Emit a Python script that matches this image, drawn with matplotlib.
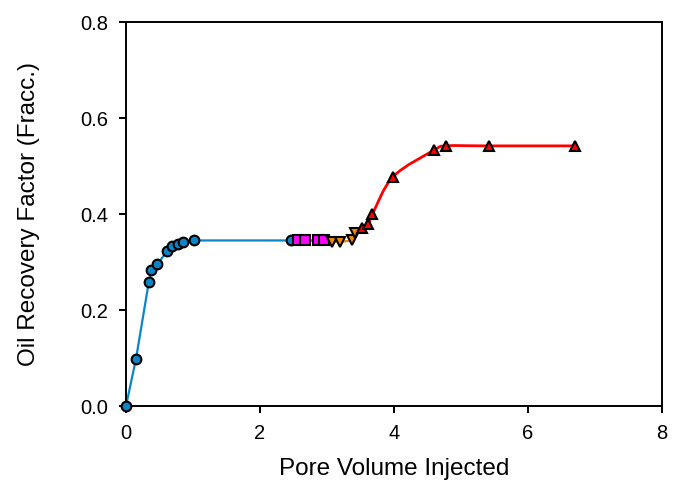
from matplotlib import pyplot as plt
from matplotlib.path import Path
from matplotlib.patches import PathPatch
import numpy as np

plt.rcParams['font.family'] = ['Liberation Sans', 'DejaVu Sans']

# blue circles
circ_x = [0.0, 0.15, 0.34, 0.38, 0.47, 0.61, 0.69, 0.77, 0.85, 1.02, 2.46]
circ_y = [0.0, 0.099, 0.258, 0.283, 0.296, 0.322, 0.333, 0.338, 0.342, 0.345, 0.345]
# magenta squares
sq_x = [2.57, 2.67, 2.86, 2.96]
sq_y = [0.345, 0.345, 0.345, 0.345]
# orange down triangles
dn_x = [3.08, 3.19, 3.37, 3.42]
dn_y = [0.342, 0.342, 0.345, 0.360]
# red up triangles
up_x = [3.53, 3.62, 3.68, 3.99, 4.60, 4.78, 5.42, 6.70]
up_y = [0.371, 0.380, 0.400, 0.478, 0.533, 0.542, 0.542, 0.542]

BLUE = '#0a86c8'
MAG = '#ff00ff'
ORANGE = '#f08a00'
RED = '#ff0000'


def smooth_path(xs, ys):
    # Catmull-Rom curve turned into cubic bezier pieces
    pts = np.column_stack([xs, ys])
    ext = np.vstack([pts[0], pts, pts[-1]])
    verts = [pts[0]]
    codes = [Path.MOVETO]
    for i in range(1, len(ext) - 2):
        p0, p1, p2, p3 = ext[i - 1], ext[i], ext[i + 1], ext[i + 2]
        verts += [p1 + (p2 - p0) / 6, p2 - (p3 - p1) / 6, p2]
        codes += [Path.CURVE4] * 3
    return Path(verts, codes)


fig, ax = plt.subplots(figsize=(6.76, 4.84), dpi=100)
fig.subplots_adjust(left=0.1864, right=0.979, top=0.9545, bottom=0.161)

ax.plot(circ_x + sq_x, circ_y + sq_y, color=BLUE, lw=1.6, zorder=2)
ax.plot(sq_x[-1:] + dn_x, sq_y[-1:] + dn_y, color=ORANGE, lw=1.6, zorder=2)
ax.add_patch(PathPatch(smooth_path(dn_x[-1:] + up_x, dn_y[-1:] + up_y),
                       facecolor='none', edgecolor=RED, lw=2, zorder=2))

mk = dict(linestyle='none', markeredgecolor='black', markeredgewidth=1.5,
          clip_on=False, zorder=3)
ax.plot(circ_x, circ_y, marker='o', markersize=7, markerfacecolor=BLUE, **mk)
ax.plot(sq_x, sq_y, marker='s', markersize=6.5, markerfacecolor=MAG, **mk)
ax.plot(dn_x, dn_y, marker='v', markersize=7.5, markerfacecolor=ORANGE, **mk)
ax.plot(up_x, up_y, marker='^', markersize=7.5, markerfacecolor=RED, **mk)

ax.set_xlim(0, 8)
ax.set_ylim(0, 0.8)
ax.set_xticks([0, 2, 4, 6, 8])
ax.set_yticks([0.0, 0.2, 0.4, 0.6, 0.8])
ax.set_yticklabels(['0.0', '0.2', '0.4', '0.6', '0.8'])
ax.tick_params(direction='out', length=5, width=1.4, labelsize=14.5, pad=8)
for s in ax.spines.values():
    s.set_linewidth(1.4)

ax.set_xlabel('Pore Volume Injected', fontsize=17.5)
ax.set_ylabel('Oil Recovery Factor (Fracc.)', fontsize=17.5)
ax.xaxis.set_label_coords(0.5, -0.135)
ax.yaxis.set_label_coords(-0.160, 0.5)

fig.savefig('out.png', dpi=100)
